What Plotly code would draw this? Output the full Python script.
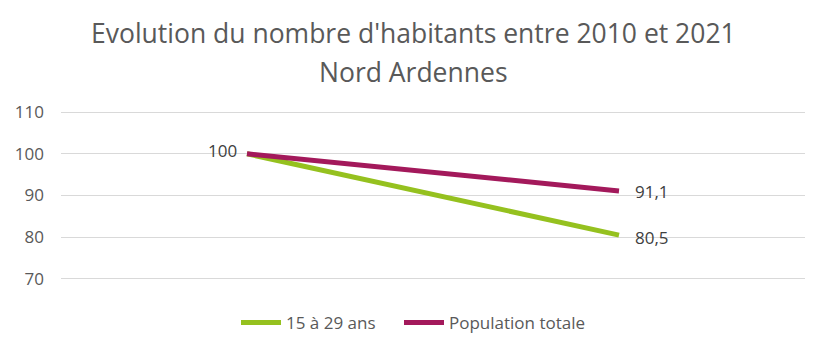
import plotly.graph_objects as go

categories = ["2010", "2021"]
jeunes = [100, 80.5]
population = [100, 91.1]
series_names = ["15 à 29 ans", "Population totale"]
title_lines = ["Evolution du nombre d'habitants entre 2010 et 2021", "Nord Ardennes"]
y_ticks = [70, 80, 90, 100, 110]

FONT = "Open Sans"
CX = (413.5 - 61) / 744  # chart centre in plot-paper coords

def fmt(v):
    return ("%g" % v).replace(".", ",")

fig = go.Figure()
fig.add_trace(go.Scatter(
    x=categories, y=jeunes, name=series_names[0], mode="lines",
    line=dict(color="#95C11F", width=5), legend="legend",
))
fig.add_trace(go.Scatter(
    x=categories, y=population, name=series_names[1], mode="lines",
    line=dict(color="#A3195B", width=5), legend="legend2",
))

label_font = dict(size=17, color="#404040", family=FONT)
annotations = []
annotations.append(dict(x=0, y=population[0], text=fmt(population[0]), showarrow=False,
                        xanchor="right", yanchor="middle", xshift=-8, yshift=3, font=label_font))
annotations.append(dict(x=len(categories) - 1, y=population[-1], text=fmt(population[-1]), showarrow=False,
                        xanchor="left", yanchor="middle", xshift=14, yshift=-1, font=label_font))
annotations.append(dict(x=len(categories) - 1, y=jeunes[-1], text=fmt(jeunes[-1]), showarrow=False,
                        xanchor="left", yanchor="middle", xshift=14, yshift=-2, font=label_font))
annotations.append(dict(xref="paper", yref="paper", x=CX, y=1, yshift=110 - 33, text=title_lines[0],
                        showarrow=False, xanchor="center", yanchor="middle",
                        font=dict(size=26.5, color="#595959", family=FONT)))
annotations.append(dict(xref="paper", yref="paper", x=CX, y=1, yshift=110 - 72, text=title_lines[1],
                        showarrow=False, xanchor="center", yanchor="middle",
                        font=dict(size=26.5, color="#595959", family=FONT)))

legend_common = dict(orientation="h", y=-0.14, yanchor="top",
                     font=dict(size=17, color="#595959", family=FONT), itemwidth=40)

fig.update_layout(
    width=827, height=353,
    margin=dict(l=61, r=22, t=110, b=70),
    paper_bgcolor="white", plot_bgcolor="white",
    annotations=annotations,
    xaxis=dict(type="category", range=[-0.5, 1.5], showticklabels=False, showgrid=False,
               zeroline=False, showline=False),
    yaxis=dict(range=[69.5, 110.5], tickvals=y_ticks, showgrid=True, gridcolor="#D9D9D9", gridwidth=1.2,
               zeroline=False, showline=False, ticks="", ticklen=0, ticklabelstandoff=16,
               tickfont=dict(size=17, color="#595959", family=FONT)),
    legend=dict(x=(236 - 61) / 744, xanchor="left", **legend_common),
    legend2=dict(x=(399 - 61) / 744, xanchor="left", **legend_common),
    showlegend=True,
)
fig.write_html("out.html")
